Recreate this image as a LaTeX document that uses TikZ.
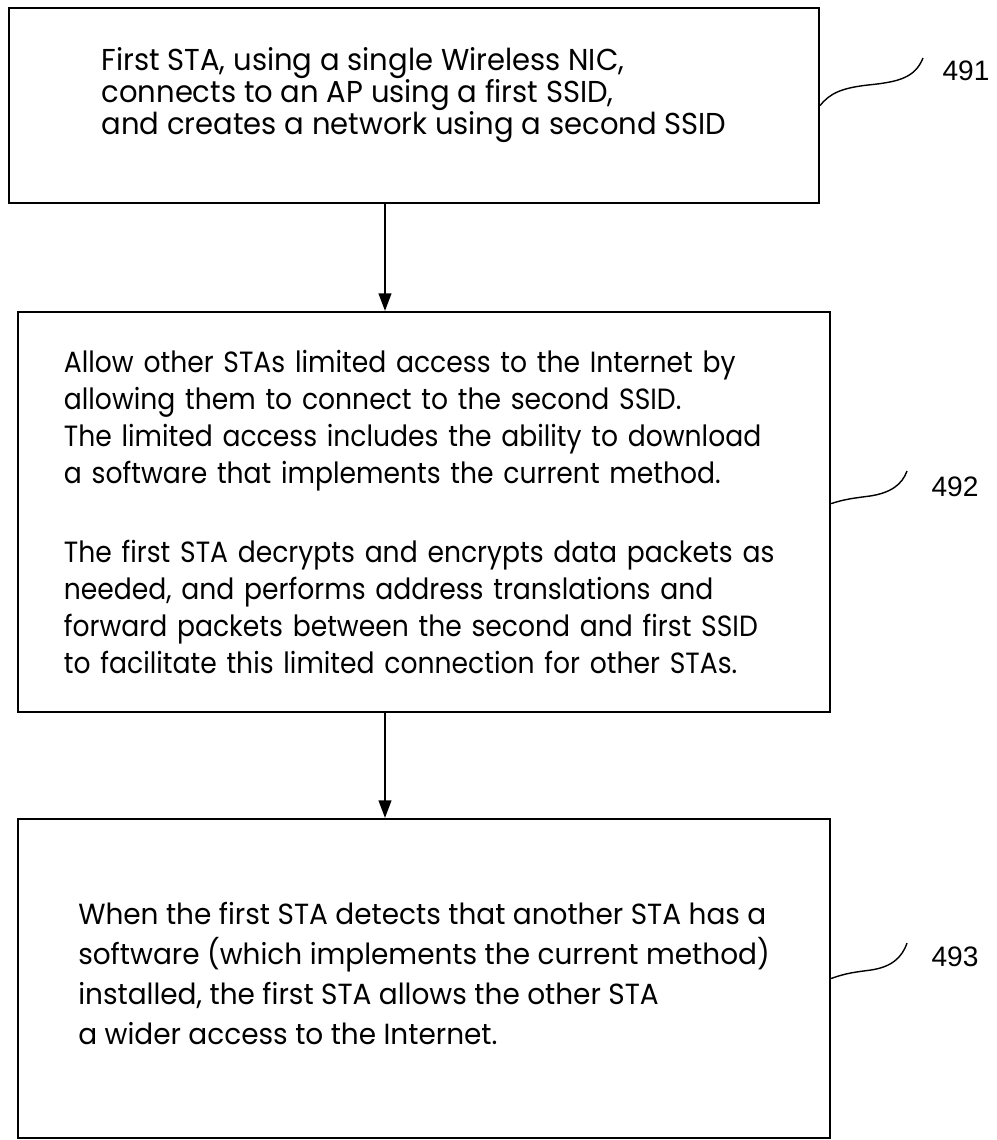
\documentclass[tikz,border=0pt]{standalone}
\usepackage{fontspec}
\setmainfont{Poppins}[FakeStretch=0.96]
\newfontfamily\narrowfont{Poppins}[FakeStretch=0.91]
\newfontfamily\numfont{Liberation Sans}
\usetikzlibrary{arrows.meta}

\tikzset{
  stepbox/.style={draw, line width=1.5pt, minimum width=20.3cm, align=left, inner sep=0pt},
  arr/.style={line width=1.3pt, -{Triangle[length=4.4mm,width=3.2mm]}},
  lead/.style={line width=1pt},
  num/.style={font=\numfont\fontsize{20}{22}\selectfont}
}

\begin{document}
\begin{tikzpicture}[x=0.025cm, y=-0.025cm]
\useasboundingbox (0,0) rectangle (996,1140);
\node[stepbox, minimum width=20.25cm, minimum height=4.875cm,
  font=\fontsize{21.5}{22.8}\selectfont] (s1) at (414,105.5)
  {First STA, using a single Wireless NIC,\\
   connects to an AP using a first SSID,\\
   and creates a network using a second SSID\rule[-21pt]{0pt}{0pt}};
\node[stepbox, minimum height=10cm, text width=18cm,
  font=\narrowfont\fontsize{20.8}{26.3}\selectfont] (s2) at (424,512)
  {Allow other STAs limited access to the Internet by\\
   allowing them to connect to the second SSID.\\
   The limited access includes the ability to download\\
   a software that implements the current method.\\[30pt]
   The first STA decrypts and encrypts data packets as\\
   needed, and performs address translations and\\
   forward packets between the second and first SSID\\
   to facilitate this limited connection for other STAs.};
\node[stepbox, minimum height=7.975cm,
  font=\fontsize{20.7}{28.5}\selectfont] (s3) at (424,978.5)
  {When the first STA detects that another STA has a\\
   software (which implements the current method)\\
   installed, the first STA allows the other STA\\
   a wider access to the Internet.\rule[-7pt]{0pt}{0pt}};
% reference numerals
\node[num] (n1) at (966,71) {491};
\node[num] (n2) at (955,487) {492};
\node[num] (n3) at (955,957) {493};
\coordinate (t1) at (923,58);
\coordinate (t2) at (907,471);
\coordinate (t3) at (907,943);
% arrows
\coordinate (ax) at (385,0);
\draw[arr] (s1.south -| ax) -- (s2.north -| ax);
\draw[arr] (s2.south -| ax) -- (s3.north -| ax);
% leaders
\draw[lead] (s1.east) .. controls (830,93) and (842,88) .. (868,85) .. controls (898,82) and (915,78) .. (t1);
\draw[lead] ([yshift=0.21cm]s2.east) .. controls (845,499) and (855,498) .. (870,496) .. controls (890,493) and (902,485) .. (t2);
\draw[lead] (s3.east) .. controls (846,973) and (856,972) .. (871,970) .. controls (891,967) and (902,958) .. (t3);
\end{tikzpicture}
\end{document}
